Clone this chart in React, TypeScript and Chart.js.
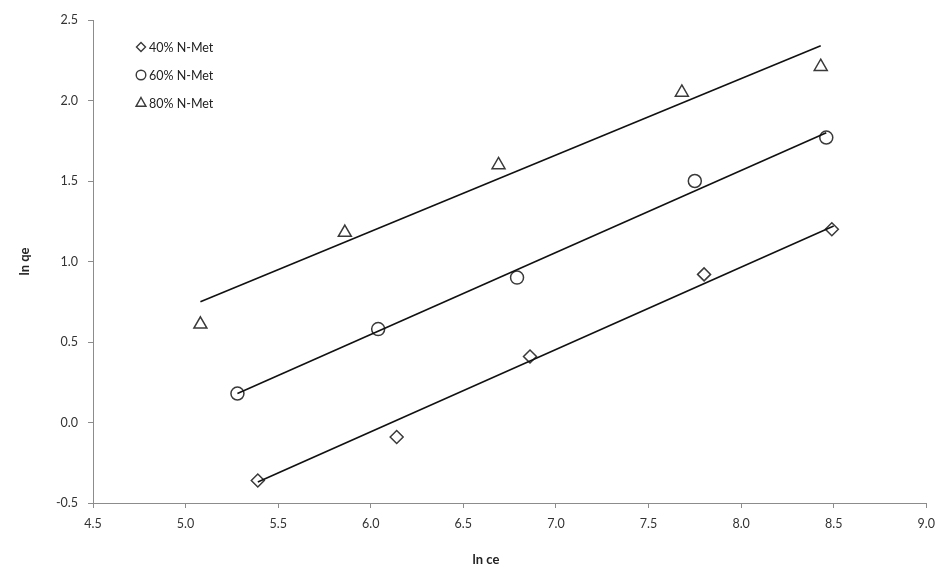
import React, { useEffect, useRef } from 'react';
import { Chart, registerables } from 'chart.js';

Chart.register(...registerables);

// ---- data ----
const seriesLabels = ['40% N-Met', '60% N-Met', '80% N-Met'];

const lnCe40 = [5.39, 6.14, 6.86, 7.8, 8.49];
const lnQe40 = [-0.36, -0.09, 0.41, 0.92, 1.2];

const lnCe60 = [5.28, 6.04, 6.79, 7.75, 8.46];
const lnQe60 = [0.18, 0.58, 0.9, 1.5, 1.77];

const lnCe80 = [5.08, 5.86, 6.69, 7.68, 8.43];
const lnQe80 = [0.61, 1.18, 1.6, 2.05, 2.21];

// fitted trend lines (end points)
const trendX40 = [5.39, 8.5];
const trendY40 = [-0.37, 1.22];
const trendX60 = [5.28, 8.46];
const trendY60 = [0.18, 1.8];
const trendX80 = [5.08, 8.43];
const trendY80 = [0.75, 2.34];

const xTicks = [4.5, 5.0, 5.5, 6.0, 6.5, 7.0, 7.5, 8.0, 8.5, 9.0];
const yTicks = [-0.5, 0.0, 0.5, 1.0, 1.5, 2.0, 2.5];

const xTitle = 'ln ce';
const yTitle = 'ln qe';

const FONT = 'Lato, "Open Sans", "DejaVu Sans", sans-serif';
const MARK = '#3a3a3a';
const AXIS = '#8c8c8c';

const pts = (xs: number[], ys: number[]) => xs.map((x, i) => ({ x, y: ys[i] }));

const pointStyles = ['rectRot', 'circle', 'triangle'];

const legendPlugin = {
  id: 'innerLegend',
  afterDraw(chart: any) {
    const ctx = chart.ctx as CanvasRenderingContext2D;
    const { left, top } = chart.chartArea;
    ctx.save();
    ctx.font = `12.5px ${FONT}`;
    ctx.textBaseline = 'middle';
    ctx.textAlign = 'left';
    seriesLabels.forEach((label, i) => {
      const cx = left + 48;
      const cy = top + 27 + i * 28;
      ctx.strokeStyle = MARK;
      ctx.lineWidth = 1.4;
      ctx.beginPath();
      const style = pointStyles[i];
      if (style === 'rectRot') {
        const r = 4.5;
        ctx.moveTo(cx - r, cy);
        ctx.lineTo(cx, cy - r);
        ctx.lineTo(cx + r, cy);
        ctx.lineTo(cx, cy + r);
        ctx.closePath();
      } else if (style === 'circle') {
        ctx.arc(cx, cy, 4.8, 0, Math.PI * 2);
      } else {
        const r = 5.5;
        ctx.moveTo(cx, cy - r);
        ctx.lineTo(cx + r * 0.9, cy + r * 0.6);
        ctx.lineTo(cx - r * 0.9, cy + r * 0.6);
        ctx.closePath();
      }
      ctx.stroke();
      ctx.fillStyle = '#222';
      ctx.fillText(label, cx + 8, cy + 1);
    });
    // x-axis title (placed slightly left of the plot centre, as in the reference)
    ctx.font = `bold 13px ${FONT}`;
    ctx.textAlign = 'center';
    ctx.fillStyle = '#222';
    ctx.fillText(xTitle, 486, chart.height - 12);
    ctx.restore();
  },
};

export default function App() {
  const ref = useRef<HTMLCanvasElement | null>(null);

  useEffect(() => {
    if (!ref.current) return;
    const scatter = (i: number, xs: number[], ys: number[], r: number) => ({
      type: 'scatter' as const,
      label: seriesLabels[i],
      data: pts(xs, ys),
      showLine: false,
      pointStyle: pointStyles[i],
      pointRadius: r,
      pointBorderColor: MARK,
      pointBackgroundColor: 'rgba(255,255,255,0)',
      pointBorderWidth: 1.5,
      pointHoverRadius: r,
    });
    const trend = (xs: number[], ys: number[]) => ({
      type: 'scatter' as const,
      label: 'trend',
      data: pts(xs, ys),
      showLine: true,
      borderColor: '#111',
      borderWidth: 1.6,
      pointRadius: 0,
      pointHoverRadius: 0,
      fill: false,
    });

    const chart = new Chart(ref.current, {
      type: 'scatter',
      data: {
        datasets: [
          trend(trendX40, trendY40),
          trend(trendX60, trendY60),
          trend(trendX80, trendY80),
          scatter(0, lnCe40, lnQe40, 6.5),
          scatter(1, lnCe60, lnQe60, 6.5),
          scatter(2, lnCe80, lnQe80, 7.5),
        ] as any,
      },
      options: {
        animation: false,
        responsive: false,
        layout: { padding: { top: 20, right: 11, left: 0, bottom: 0 } },
        plugins: {
          legend: { display: false },
          tooltip: { enabled: false },
        },
        scales: {
          x: {
            type: 'linear',
            min: xTicks[0],
            max: xTicks[xTicks.length - 1],
            afterBuildTicks: (s: any) => {
              s.ticks = xTicks.map((v) => ({ value: v }));
            },
            afterFit: (s: any) => {
              s.height = 69;
            },
            ticks: {
              callback: (v: any) => Number(v).toFixed(1),
              font: { family: FONT, size: 12.5 },
              color: '#333',
              padding: 8,
              maxRotation: 0,
            },
            grid: { drawOnChartArea: false, drawTicks: true, tickLength: 5, color: AXIS },
            border: { display: true, color: AXIS, width: 1 },
            title: { display: false },
          },
          y: {
            type: 'linear',
            min: yTicks[0],
            max: yTicks[yTicks.length - 1],
            afterBuildTicks: (s: any) => {
              s.ticks = yTicks.map((v) => ({ value: v }));
            },
            afterFit: (s: any) => {
              s.width = 93;
            },
            ticks: {
              callback: (v: any) => Number(v).toFixed(1),
              font: { family: FONT, size: 12.5 },
              color: '#333',
              padding: 10,
            },
            grid: { drawOnChartArea: false, drawTicks: true, tickLength: 5, color: AXIS },
            border: { display: true, color: AXIS, width: 1 },
            title: {
              display: true,
              text: yTitle,
              font: { family: FONT, size: 13, weight: 'bold' },
              color: '#222',
              padding: { top: 17, bottom: 0 },
            },
          },
        },
      },
      plugins: [legendPlugin],
    });
    return () => chart.destroy();
  }, []);

  return (
    <div style={{ position: 'fixed', left: 0, top: 0, width: 943, height: 572, background: '#fff' }}>
      <canvas ref={ref} width={943} height={572} />
    </div>
  );
}
